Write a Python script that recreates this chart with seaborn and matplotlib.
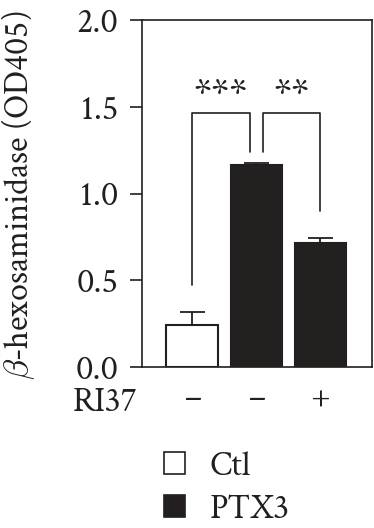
import matplotlib
matplotlib.use("Agg")
import matplotlib.pyplot as plt
import seaborn as sns
import pandas as pd
from matplotlib.patches import Patch

# Data
conditions = ["Ctl", "PTX3", "PTX3+RI37"]
groups = ["Ctl", "PTX3", "PTX3"]
values = [0.24, 1.165, 0.715]
errors = [0.075, 0.012, 0.03]
ri37_labels = ["\u2013", "\u2013", "+"]
yticks = [0.0, 0.5, 1.0, 1.5, 2.0]
comparisons = [(0, 1, "***"), (1, 2, "**")]

sns.set_style("white")
FONT = ["Crimson Text", "Liberation Serif", "DejaVu Serif"]
plt.rcParams["font.family"] = FONT
plt.rcParams["mathtext.fontset"] = "custom"
plt.rcParams["mathtext.it"] = "Crimson Text:italic"
plt.rcParams["mathtext.rm"] = "Crimson Text"

dark = "#231f20"
fig = plt.figure(figsize=(3.74, 5.28), dpi=100)
ax = fig.add_axes([0.380, 0.305, 0.615, 0.657])

df = pd.DataFrame({"cond": conditions, "val": values, "grp": groups})
sns.barplot(data=df, x="cond", y="val", hue="grp", dodge=False,
            palette={"Ctl": "white", "PTX3": dark}, edgecolor=dark,
            linewidth=1.5, width=0.8, legend=False, ax=ax, errorbar=None)

ax.errorbar(range(len(values)), values, yerr=[[0] * len(values), errors],
            fmt="none", ecolor=dark, elinewidth=1.3, capsize=9, capthick=1.3)

# significance brackets
top = 1.465
legs = {(0, 1): (0.47, 1.24), (1, 2): (1.24, 0.90)}
offs = {(0, 1): (0.0, -0.1), (1, 2): (0.1, 0.0)}
for a, b, s in comparisons:
    la, lb = legs[(a, b)]
    oa, ob = offs[(a, b)]
    xa, xb = a + oa, b + ob
    ax.plot([xa, xa, xb, xb], [la, top, top, lb], color=dark, lw=1.2)
    ax.text((xa + xb) / 2, 1.56, s, ha="center", va="center",
            fontsize=30, color=dark, family=FONT)

ax.set_xlim(-0.78, 2.81)
ax.set_ylim(0, 2.0)
ax.set_yticks(yticks)
ax.set_yticklabels([f"{t:.1f}" for t in yticks], family=FONT)
ax.set_xticks(range(len(conditions)))
ax.set_xticklabels(ri37_labels, family=FONT)
ax.tick_params(axis="y", direction="out", length=9, width=1.2, pad=8,
               labelsize=25, colors=dark, left=True)
ax.tick_params(axis="x", length=0, pad=12, labelsize=25, colors=dark)
for sp in ax.spines.values():
    sp.set_visible(True)
    sp.set_color(dark)
    sp.set_linewidth(1.2)
ax.set_xlabel("")
ylab = ax.set_ylabel(r"$\mathit{\beta}$-hexosaminidase (OD405)", fontsize=23,
                     color=dark, family=FONT)
ax.yaxis.set_label_coords(-0.455, 0.496)

# fit the y label to the reference length (~370 px)
fig.canvas.draw()
r = fig.canvas.get_renderer()
h = ylab.get_window_extent(r).height
ylab.set_fontsize(23 * 370 / h)

fig.text(0.367, 1 - 403 / 528, "RI37", ha="right", va="center",
         fontsize=25, color=dark, family=FONT)

handles = [Patch(facecolor="white", edgecolor=dark, linewidth=1.2, label="Ctl"),
           Patch(facecolor=dark, edgecolor=dark, linewidth=1.2, label="PTX3")]
fig.legend(handles=handles, loc="upper left", bbox_to_anchor=(0.355, 1 - 420 / 528),
           frameon=False, prop={"family": FONT, "size": 25}, handlelength=0.6,
           handleheight=0.6, handletextpad=0.7, labelspacing=0.33, labelcolor=dark)

fig.savefig("out.png", dpi=100)
